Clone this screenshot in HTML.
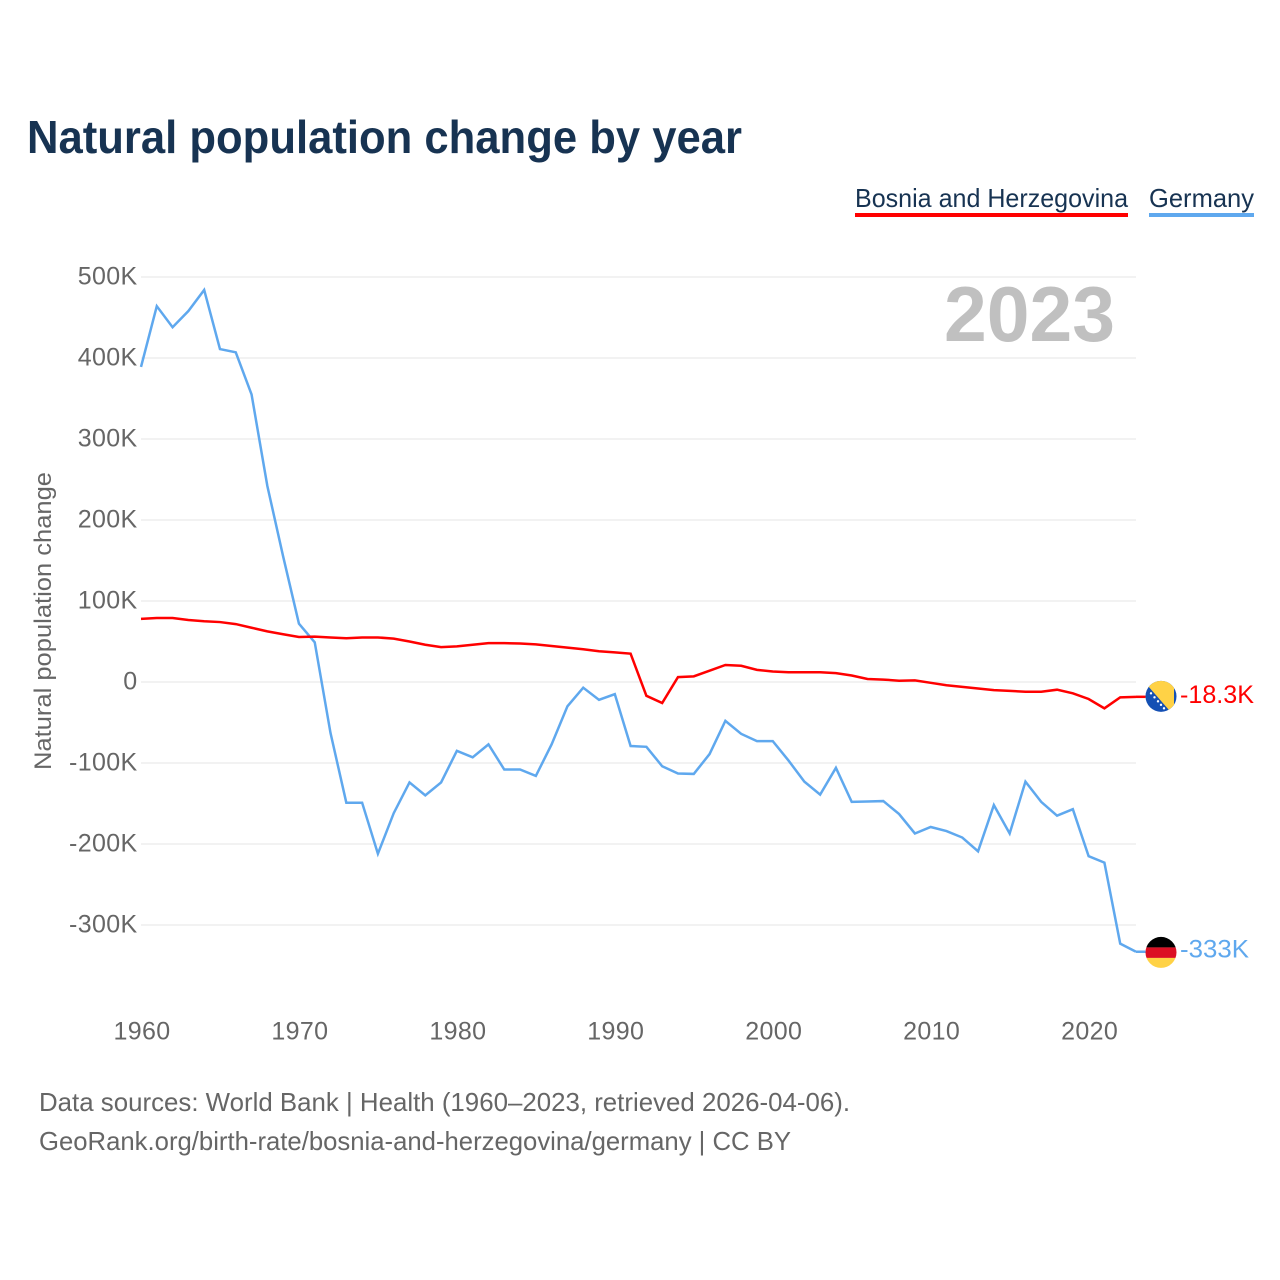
<!DOCTYPE html>
<html lang="en">
<head>
<meta charset="utf-8">
<title>Natural population change by year</title>
<style>
html,body{margin:0;padding:0;background:#fff;}
svg{display:block;font-family:"Liberation Sans",sans-serif;}
</style>
</head>
<body>
<svg id="chart" xmlns="http://www.w3.org/2000/svg" width="1280" height="1280" viewBox="0 0 1280 1280">
  <defs>
    <clipPath id="flag-clip-top"><circle id="flag-clip-top-circle" r="15.5" cx="0" cy="0"/></clipPath>
  </defs>
  <rect width="1280" height="1280" fill="#ffffff"/>
  <text x="27" y="153" font-size="46" font-weight="700" fill="#173352" textLength="715" lengthAdjust="spacingAndGlyphs">Natural population change by year</text>

  <g>
    <g>
      <text x="855" y="207" font-size="26" fill="#173352" textLength="273" lengthAdjust="spacingAndGlyphs">Bosnia and Herzegovina</text>
      <rect x="855" y="213" width="273" height="4" fill="#ff0000"/>
    </g>
    <g>
      <text x="1149" y="207" font-size="26" fill="#173352" textLength="105" lengthAdjust="spacingAndGlyphs">Germany</text>
      <rect x="1149" y="213" width="105" height="4" fill="#5fa8ee"/>
    </g>
  </g>

  <g id="grid"></g>
  <g id="y-ticks"></g>
  <g id="x-ticks"></g>

  <text transform="translate(51,770) rotate(-90)" font-size="24" fill="#666666" textLength="298" lengthAdjust="spacingAndGlyphs">Natural population change</text>
  <text x="944" y="341" font-size="78" font-weight="700" fill="#c0c0c0" textLength="171" lengthAdjust="spacingAndGlyphs">2023</text>

  <g id="series"></g>
  <g id="end-markers"></g>

  <text x="39" y="1111" font-size="26" fill="#666666" textLength="811" lengthAdjust="spacingAndGlyphs">Data sources: World Bank | Health (1960–2023, retrieved 2026-04-06).</text>
  <text x="39" y="1150" font-size="26" fill="#666666" textLength="752" lengthAdjust="spacingAndGlyphs">GeoRank.org/birth-rate/bosnia-and-herzegovina/germany | CC BY</text>
</svg>

<script>
const startYear = 1960;
const yTickValues = [500, 400, 300, 200, 100, 0, -100, -200, -300];
const yTickLabels = ['500K', '400K', '300K', '200K', '100K', '0', '-100K', '-200K', '-300K'];
const xTickYears = [1960, 1970, 1980, 1990, 2000, 2010, 2020];

// Natural population change in thousands, 1960 to 2023
const bosniaValues = [78, 79, 79, 76.5, 75, 74, 71.5, 67, 62.5, 59, 55.5, 56, 55, 54, 55, 55, 53.5, 50, 46, 43, 44, 46, 48, 48, 47.5, 46.5, 44.5, 42.5, 40.5, 38, 36.5, 35, -17, -26, 6, 7, 14, 21, 20, 15, 13, 12, 12, 12, 11, 8, 3.7, 3, 1.6, 2, -1, -4, -6, -8, -10, -11, -12, -12, -9.5, -14, -21, -32.5, -19, -18.3];
const germanyValues = [389, 464, 438, 458, 484, 411, 407, 355, 242, 155, 72, 49, -63, -149, -149, -212, -162, -124, -140, -124, -85, -93, -77, -108, -108, -116, -77, -30, -7, -22, -15, -79, -80, -104, -113, -113.5, -89, -48, -64, -73, -73, -97, -123, -139, -106, -148, -147.5, -147, -163, -187, -179, -184, -192, -209, -152, -187, -123, -148, -165, -157, -215, -223, -323, -333];

const bosniaEndLabel = '-18.3K';
const germanyEndLabel = '-333K';

const SVG_NS = 'http://www.w3.org/2000/svg';
const plotLeft = 141;
const plotRight = 1136;
const zeroY = 682;
const pxPerThousand = 0.81;
const yearStep = (plotRight - plotLeft) / 63;

function xScale(year) { return plotLeft + (year - startYear) * yearStep; }
function yScale(value) { return zeroY - value * pxPerThousand; }
function make(tag) { return document.createElementNS(SVG_NS, tag); }

const gridGroup = document.getElementById('grid');
const yTickGroup = document.getElementById('y-ticks');
yTickValues.forEach(function (value, i) {
  const line = make('line');
  
  
  line.setAttribute('x1', plotLeft);
  line.setAttribute('x2', plotRight);
  line.setAttribute('y1', yScale(value));
  line.setAttribute('y2', yScale(value));
  line.setAttribute('stroke', '#eeeeee');
  line.setAttribute('stroke-width', '1.6');
  gridGroup.appendChild(line);

  const label = make('text');
  
  
  label.setAttribute('x', 137.5);
  label.setAttribute('y', yScale(value) + 7.5);
  label.setAttribute('text-anchor', 'end');
  label.setAttribute('font-size', '25');
  label.setAttribute('letter-spacing', '0.35');
  label.setAttribute('fill', '#666666');
  label.textContent = yTickLabels[i];
  yTickGroup.appendChild(label);
});

const xTickGroup = document.getElementById('x-ticks');
xTickYears.forEach(function (year) {
  const label = make('text');
  
  
  label.setAttribute('x', xScale(year) + 1);
  label.setAttribute('y', 1039.5);
  label.setAttribute('text-anchor', 'middle');
  label.setAttribute('font-size', '25');
  label.setAttribute('letter-spacing', '0.35');
  label.setAttribute('fill', '#666666');
  label.textContent = String(year);
  xTickGroup.appendChild(label);
});

function pointsFor(values) {
  return values.map(function (value, i) {
    return xScale(startYear + i).toFixed(2) + ',' + yScale(value).toFixed(2);
  }).join(' ');
}

const seriesGroup = document.getElementById('series');

const germanyLine = make('polyline');


germanyLine.setAttribute('points', pointsFor(germanyValues));
germanyLine.setAttribute('fill', 'none');
germanyLine.setAttribute('stroke', '#5fa8ee');
germanyLine.setAttribute('stroke-width', '2.5');
germanyLine.setAttribute('stroke-linejoin', 'miter');
seriesGroup.appendChild(germanyLine);

const bosniaLine = make('polyline');


bosniaLine.setAttribute('points', pointsFor(bosniaValues));
bosniaLine.setAttribute('fill', 'none');
bosniaLine.setAttribute('stroke', '#ff0000');
bosniaLine.setAttribute('stroke-width', '2.5');
bosniaLine.setAttribute('stroke-linejoin', 'miter');
seriesGroup.appendChild(bosniaLine);

const markerGroup = document.getElementById('end-markers');
const flagX = 1161;
const flagRadius = 15.5;
const lastIndex = bosniaValues.length - 1;

function addConnector(values, color, name) {
  const y = yScale(values[lastIndex]);
  const connector = make('line');
  
  
  connector.setAttribute('x1', plotRight);
  connector.setAttribute('x2', flagX - flagRadius);
  connector.setAttribute('y1', y);
  connector.setAttribute('y2', y);
  connector.setAttribute('stroke', color);
  connector.setAttribute('stroke-width', '2.5');
  markerGroup.appendChild(connector);
}
addConnector(bosniaValues, '#ff0000', 'bosnia-end-connector');
addConnector(germanyValues, '#5fa8ee', 'germany-end-connector');

function addEndLabel(values, text, width, color, name) {
  const label = make('text');
  
  
  label.setAttribute('x', 1180);
  label.setAttribute('y', yScale(values[lastIndex]) + 6);
  label.setAttribute('font-size', '25');
  label.setAttribute('fill', color);
  label.setAttribute('textLength', width);
  label.setAttribute('lengthAdjust', 'spacingAndGlyphs');
  label.textContent = text;
  markerGroup.appendChild(label);
}
addEndLabel(bosniaValues, bosniaEndLabel, 74, '#ff0000', 'bosnia-end-value');
addEndLabel(germanyValues, germanyEndLabel, 69, '#5fa8ee', 'germany-end-value');

// Bosnia flag, positioned from the last Bosnia value
const bosniaFlag = make('g');


bosniaFlag.setAttribute('transform', 'translate(' + flagX + ',' + (yScale(bosniaValues[lastIndex]) - 0.5) + ')');
bosniaFlag.setAttribute('clip-path', 'url(#flag-clip-top)');
bosniaFlag.innerHTML =
  '<rect x="-16" y="-16" width="32" height="32" fill="#1450b4"/>' +
  '<polygon points="-18,-16 13,-16 13,16 10,16" fill="#ffd246"/>' +
  '<g fill="#ffffff"><circle cx="-10" cy="-3" r="1.2"/><circle cx="-6.5" cy="1" r="1.2"/><circle cx="-3" cy="5" r="1.2"/><circle cx="0" cy="8.5" r="1.2"/><circle cx="3" cy="12" r="1.2"/></g>';
markerGroup.appendChild(bosniaFlag);

// Germany flag, positioned from the last Germany value
const germanyFlag = make('g');


germanyFlag.setAttribute('transform', 'translate(' + flagX + ',' + (yScale(germanyValues[lastIndex]) + 0.7) + ')');
germanyFlag.setAttribute('clip-path', 'url(#flag-clip-top)');
germanyFlag.innerHTML =
  '<rect x="-16" y="-16" width="32" height="11" fill="#000000"/>' +
  '<rect x="-16" y="-5" width="32" height="10.5" fill="#dc0f23"/>' +
  '<rect x="-16" y="5.5" width="32" height="11" fill="#ffd246"/>';
markerGroup.appendChild(germanyFlag);
</script>
</body>
</html>
